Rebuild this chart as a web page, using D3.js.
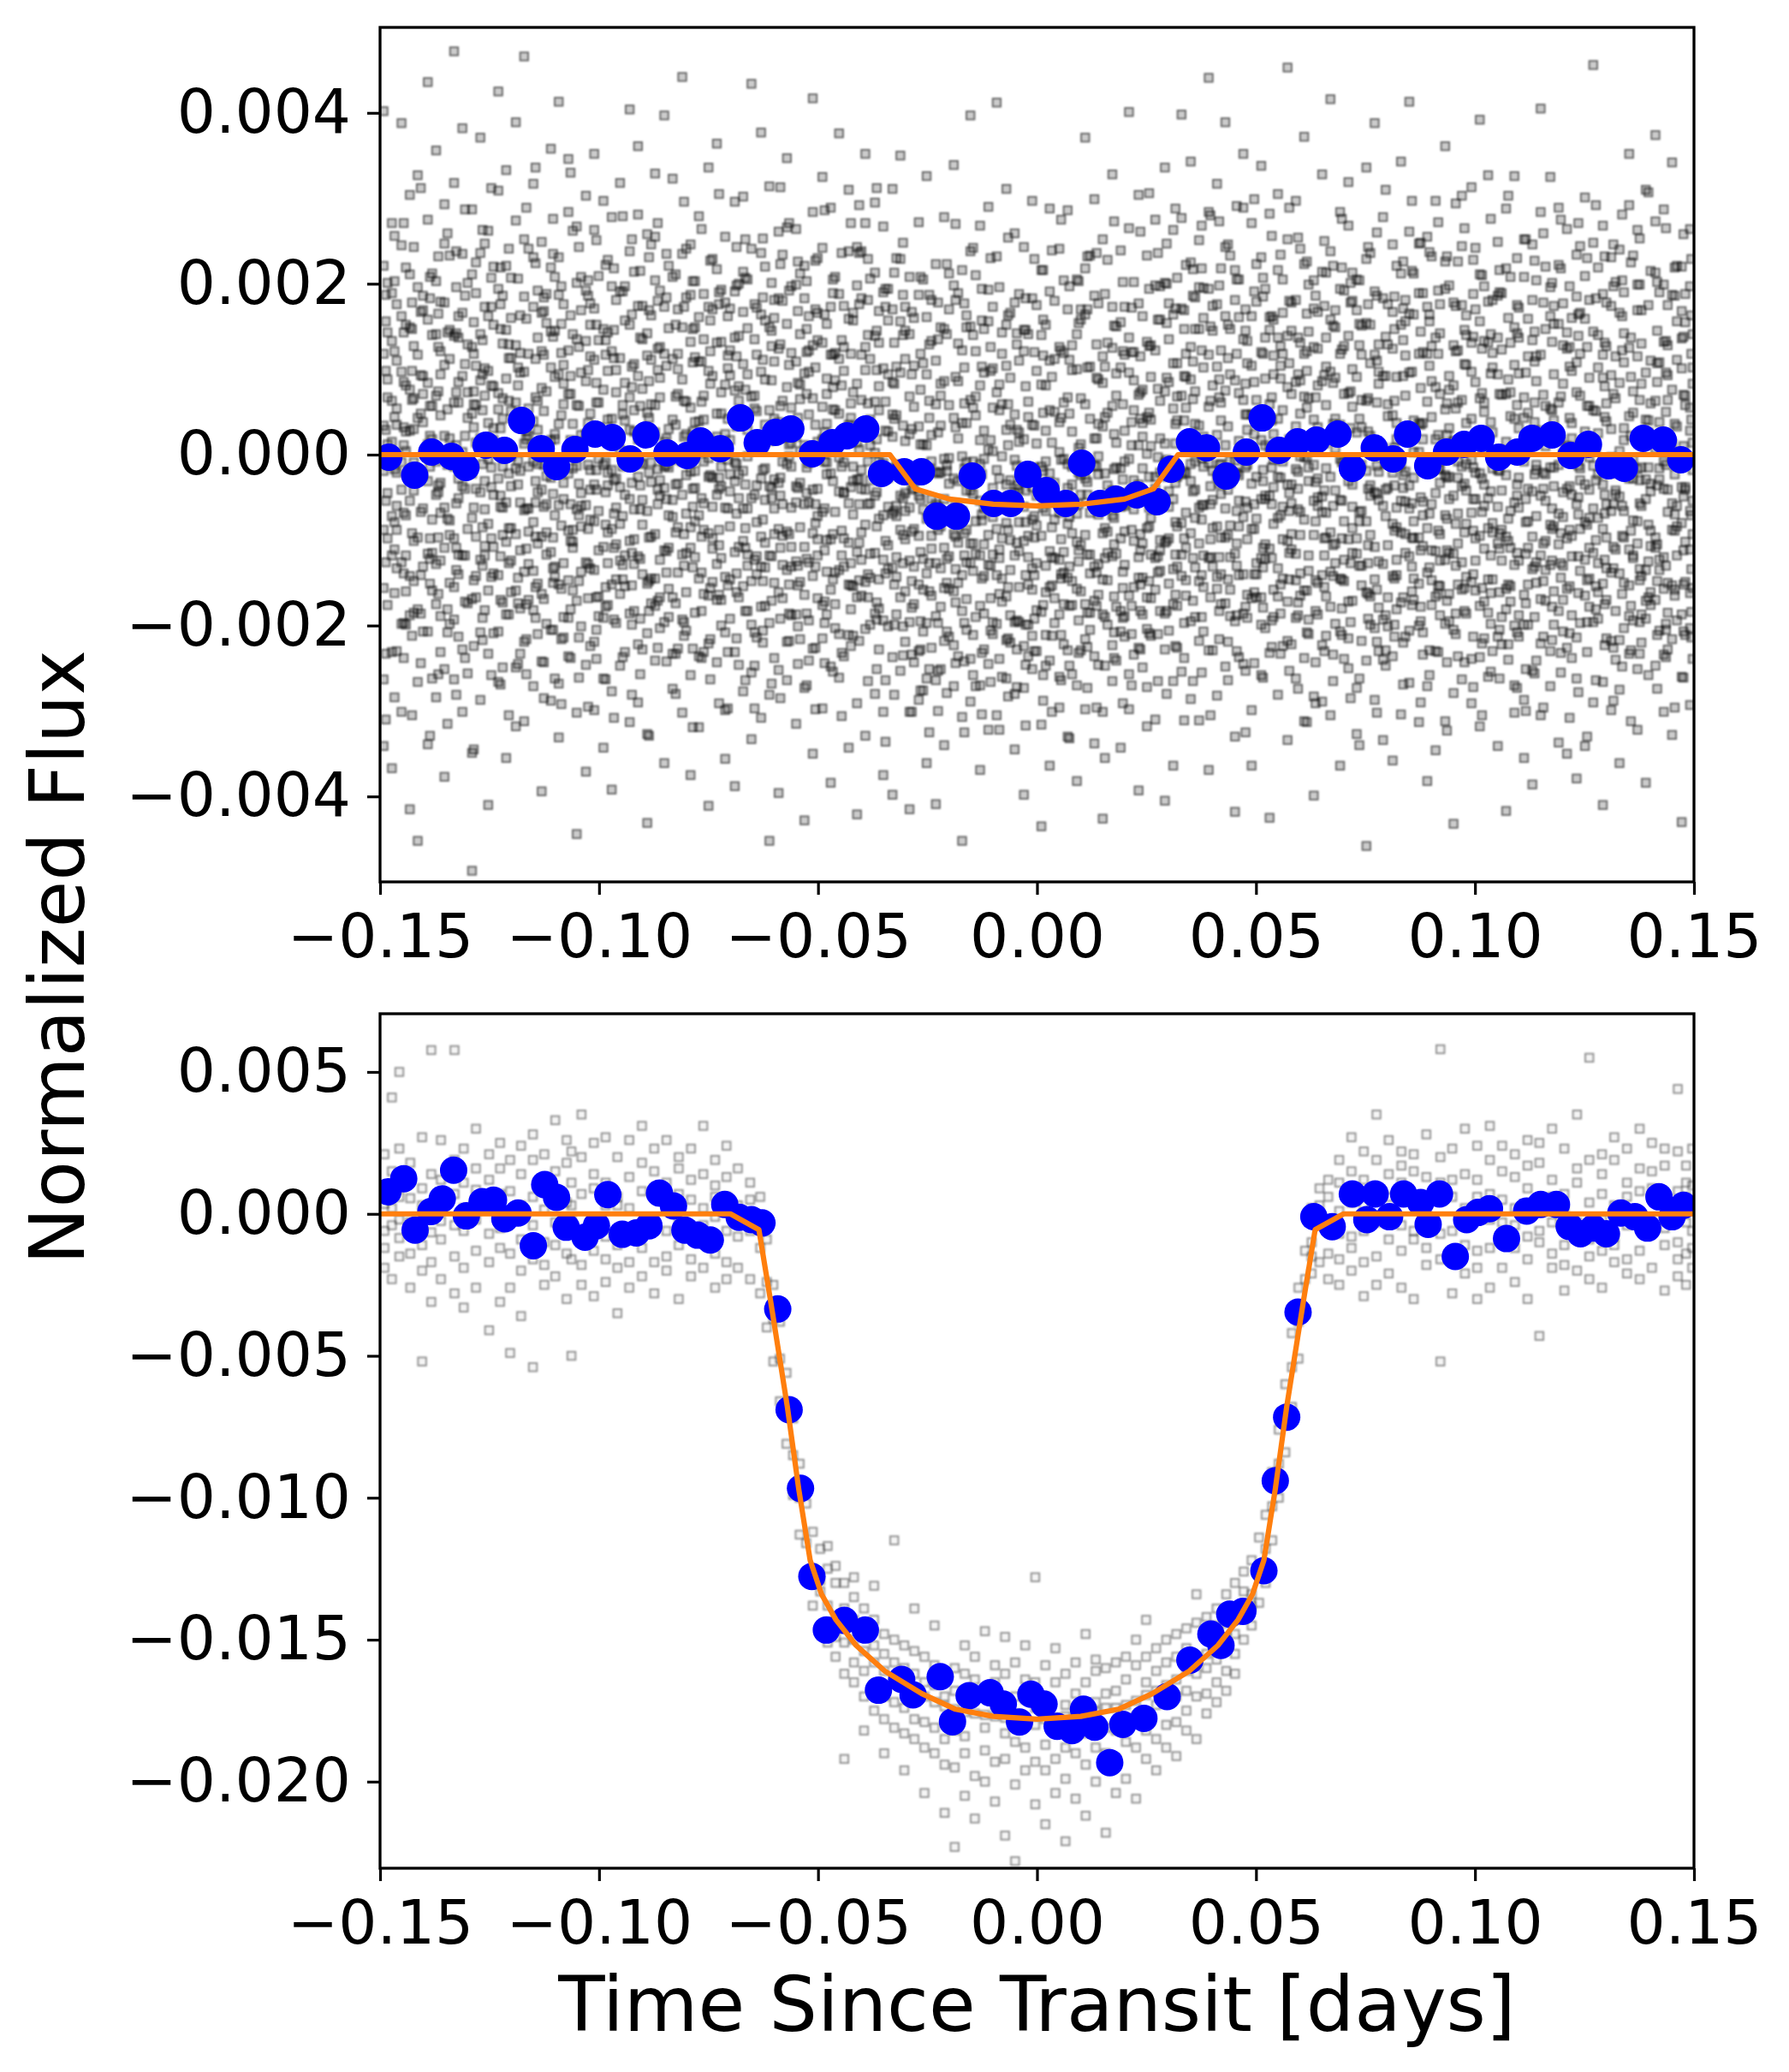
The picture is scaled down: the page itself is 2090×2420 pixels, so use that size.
<!DOCTYPE html>
<html><head><meta charset="utf-8">
<script src="https://cdn.jsdelivr.net/npm/d3@7"></script>
<style>body{margin:0;background:#fff} text{font-family:"DejaVu Sans",sans-serif}</style>
</head><body><svg id="c" width="2090" height="2420"></svg>
<script>
// ---------------- DATA ----------------
const xTicks = [-0.15,-0.10,-0.05,0,0.05,0.10,0.15];
const topYTicks = [-0.004,-0.002,0,0.002,0.004];
const botYTicks = [-0.020,-0.015,-0.010,-0.005,0,0.005];
const xLabel = "Time Since Transit [days]";
const yLabel = "Normalized Flux";

// binned (blue) points, top panel
const topBinX = [-0.1480,-0.1421,-0.1382,-0.1337,-0.1304,-0.1258,-0.1216,-0.1177,-0.1132,-0.1097,-0.1055,-0.1009,-0.0970,-0.0929,-0.0893,-0.0845,-0.0799,-0.0768,-0.0723,-0.0677,-0.0639,-0.0597,-0.0562,-0.0513,-0.0468,-0.0434,-0.0391,-0.0355,-0.0303,-0.0264,-0.0229,-0.0184,-0.0148,-0.0099,-0.0060,-0.0021,0.0021,0.0066,0.0102,0.0144,0.0180,0.0228,0.0274,0.0306,0.0348,0.0387,0.0432,0.0478,0.0514,0.0553,0.0595,0.0638,0.0687,0.0720,0.0770,0.0813,0.0846,0.0892,0.0935,0.0975,0.1014,0.1054,0.1097,0.1130,0.1176,0.1219,0.1259,0.1305,0.1341,0.1384,0.1430,0.1470];
const topBinY = [-0.00003,-0.00024,0.00003,-0.00002,-0.00015,0.00011,0.00005,0.00040,0.00007,-0.00014,0.00006,0.00024,0.00020,-0.00005,0.00023,0.00002,-0.00001,0.00016,0.00007,0.00043,0.00014,0.00026,0.00030,0.00001,0.00014,0.00022,0.00030,-0.00022,-0.00020,-0.00020,-0.00072,-0.00072,-0.00025,-0.00057,-0.00057,-0.00023,-0.00042,-0.00057,-0.00010,-0.00057,-0.00052,-0.00047,-0.00055,-0.00017,0.00015,0.00008,-0.00025,0.00003,0.00043,0.00005,0.00015,0.00017,0.00024,-0.00016,0.00008,-0.00005,0.00024,-0.00013,0.00003,0.00012,0.00019,-0.00003,0.00003,0.00019,0.00023,-0.00001,0.00012,-0.00013,-0.00016,0.00019,0.00017,-0.00006];

// binned (blue) points, bottom panel
const botBinX = [-0.1482,-0.1446,-0.1420,-0.1384,-0.1358,-0.1332,-0.1303,-0.1267,-0.1241,-0.1215,-0.1185,-0.1150,-0.1124,-0.1097,-0.1075,-0.1032,-0.1006,-0.0980,-0.0947,-0.0915,-0.0886,-0.0862,-0.0830,-0.0804,-0.0775,-0.0746,-0.0713,-0.0680,-0.0652,-0.0628,-0.0592,-0.0566,-0.0540,-0.0514,-0.0481,-0.0440,-0.0392,-0.0362,-0.0309,-0.0283,-0.0221,-0.0193,-0.0155,-0.0107,-0.0077,-0.0040,-0.0014,0.0016,0.0046,0.0080,0.0106,0.0132,0.0166,0.0196,0.0244,0.0297,0.0349,0.0397,0.0420,0.0440,0.0470,0.0518,0.0544,0.0570,0.0596,0.0632,0.0674,0.0720,0.0753,0.0772,0.0805,0.0837,0.0876,0.0893,0.0919,0.0955,0.0981,0.1007,0.1033,0.1072,0.1118,0.1150,0.1186,0.1215,0.1241,0.1270,0.1300,0.1333,0.1365,0.1394,0.1420,0.1450,0.1476];
const botBinY = [0.00078,0.00124,-0.00057,0.00008,0.00053,0.00154,-0.00007,0.00043,0.00048,-0.00017,0.00003,-0.00112,0.00103,0.00058,-0.00047,-0.00082,-0.00042,0.00068,-0.00072,-0.00067,-0.00042,0.00073,0.00028,-0.00057,-0.00075,-0.00092,0.00033,-0.00012,-0.00020,-0.00032,-0.00335,-0.00690,-0.00967,-0.01277,-0.01466,-0.01432,-0.01466,-0.01678,-0.01640,-0.01694,-0.01630,-0.01789,-0.01697,-0.01687,-0.01727,-0.01790,-0.01692,-0.01727,-0.01805,-0.01820,-0.01745,-0.01808,-0.01933,-0.01798,-0.01777,-0.01700,-0.01572,-0.01480,-0.01520,-0.01410,-0.01400,-0.01257,-0.00940,-0.00716,-0.00346,-0.00010,-0.00045,0.00070,-0.00020,0.00070,-0.00010,0.00070,0.00040,-0.00037,0.00070,-0.00150,-0.00020,0.00005,0.00018,-0.00087,0.00010,0.00033,0.00033,-0.00044,-0.00070,-0.00050,-0.00070,0.00003,-0.00010,-0.00050,0.00060,-0.00010,0.00030];

// transit model (orange)
const topModelX = [-0.15,-0.0336,-0.0278,-0.0200,-0.0100,0,0.0100,0.0200,0.0266,0.0322,0.15];
const topModelY = [0,0,-0.00040,-0.00052,-0.00058,-0.00060,-0.00058,-0.00052,-0.00040,0,0];
const botModelX = [-0.15,-0.0700,-0.0635,-0.0609,-0.0570,-0.0544,-0.0518,-0.0492,-0.0459,-0.0413,-0.0348,-0.0263,-0.0186,-0.0100,0,0.0100,0.0186,0.0263,0.0348,0.0413,0.0459,0.0492,0.0518,0.0544,0.0570,0.0609,0.0635,0.0700,0.15];
const botModelY = [0,0,-0.00056,-0.0030,-0.0068,-0.0097,-0.0122,-0.0134,-0.0143,-0.0152,-0.0161,-0.0169,-0.01745,-0.0177,-0.0178,-0.0177,-0.01745,-0.0169,-0.0161,-0.0152,-0.0143,-0.0134,-0.0122,-0.0097,-0.0068,-0.0030,-0.00056,0,0];

// raw (grey) points: [time in 1e-4 d, flux values in 1e-5 ...]
const topGray = [
[-1492,34,-156,221,-88,402,-263,118,-19,-341],[-1473,-72,189,-231,15,133,-367,271,-118,63],[-1451,245,-41,-198,97,-301,162,-9,388,-126],
[-1432,-188,76,304,-54,-142,211,-415,28,149],[-1414,117,-266,43,-97,196,-23,327,-181,-452],[-1391,-31,158,-339,84,-207,275,12,-116,436],
[-1372,203,-128,-47,356,-284,69,-175,141,-8],[-1353,-251,22,178,-109,293,-62,-377,105,247],[-1331,61,-193,-263,139,-14,318,-98,472,-155],
[-1312,-118,235,92,-301,-37,166,-228,3,382],[-1290,287,-74,-169,48,211,-349,126,-22,-487],[-1271,-44,141,-287,371,-123,87,19,-208,236],
[-1253,162,-233,37,-81,262,-159,-410,98,-5],[-1230,-207,53,309,-141,-28,194,-266,425,72],[-1212,89,-102,-355,221,-187,11,146,-56,333],
[-1190,-159,274,61,-16,-249,128,389,-93,-318],[-1171,13,-219,185,-312,97,-65,252,-137,466],[-1150,231,-8,-136,173,-271,39,-182,317,-79],
[-1131,-96,166,-41,-394,249,-163,78,-242,121],[-1110,144,-288,102,-27,358,-114,-205,17,219],[-1092,-268,36,231,-152,-59,187,-331,94,413],
[-1070,71,-147,-22,284,-236,122,-89,346,-191],[-1051,-13,201,-302,58,-171,267,-444,135,-64],[-1030,192,-59,133,-246,24,-126,303,-371,86],
[-1011,-135,263,-78,111,-219,352,-35,-299,171],[-990,25,-191,297,-12,-343,147,76,-108,-262],[-971,278,-87,-152,197,42,-277,-18,121,-392],
[-952,-81,113,-247,-38,318,-163,191,6,-124],[-930,152,-313,67,-186,238,-52,404,-101,29],[-911,-222,18,174,-119,92,-290,281,-26,361],
[-890,49,-151,-327,258,-66,142,-209,-431,116],[-872,-177,329,26,-93,204,-241,58,-145,255],[-851,118,-39,-196,15,-361,173,-112,397,-14],
[-832,-53,208,112,-274,-167,41,323,-73,-233],[-810,235,-117,-8,149,-302,88,-193,-47,442],[-791,-109,55,-258,187,-20,-375,132,246,-85],
[-772,7,-236,161,-71,279,-145,39,-319,109],[-750,173,-26,-165,336,-92,-221,98,-4,-411],[-731,-243,131,48,-128,217,-47,364,-170,21],
[-712,82,-208,-299,24,-143,255,-62,178,-356],[-690,-31,296,-114,-231,75,-9,191,-388,137],[-671,214,-63,167,-19,-277,106,-154,302,-101],
[-652,-148,12,-333,241,-51,-199,68,434,-255],[-630,97,-178,236,-96,164,-308,-28,-131,377],[-611,-197,149,-37,-281,314,52,-118,16,-452],
[-590,38,-252,183,124,-161,-33,-396,261,-87],[-571,-90,79,-219,-11,266,-135,347,-264,153],[-550,264,-125,21,-187,-56,199,-315,109,-37],
[-531,-58,183,-273,95,-108,-428,11,221,-164],[-512,128,-41,-142,284,-227,66,-92,-350,417],[-490,-215,242,56,-67,131,-176,-297,18,325],
[-471,16,-99,-384,173,-22,289,-158,117,-248],[-452,188,-261,112,-135,48,-43,376,-210,-3],[-430,-103,35,-211,310,-152,159,-57,-343,238],
[-411,243,-167,-29,83,-291,-114,14,198,-421],[-392,-41,126,271,-204,99,-329,-82,352,-149],[-370,-280,62,-115,2,213,-48,-186,139,295],
[-351,101,-194,190,-301,-71,267,-10,-123,-375],[-330,-69,311,-237,47,-132,85,-398,170,21],[-312,156,-12,-88,-253,229,-167,350,-48,96],
[-291,-124,208,-301,68,-196,24,-62,-415,141],[-270,33,-152,-48,187,-287,-95,272,-18,-230],[-252,-197,94,-139,-361,11,161,-75,326,-262],
[-231,110,-264,-20,-127,223,-58,-189,59,-409],[-212,-52,-218,147,-340,-5,278,-109,-156,86],[-190,198,-93,-271,43,-160,-28,339,-223,-68],
[-171,-141,37,-66,-307,122,-183,-2,216,-452],[-152,64,-239,238,-104,-42,-289,150,-127,397],[-130,-270,-11,-177,81,268,-54,-369,17,-118],
[-111,156,-129,-53,-245,6,193,-94,-322,290],[-92,-87,232,-305,-18,-198,73,-141,412,-56],[-70,29,-166,104,-262,-80,311,-217,-35,152],
[-51,-196,-44,259,-118,47,-345,-6,178,-280],[-30,121,-273,-101,18,-224,146,-61,-398,243],[-11,-38,183,-212,-133,297,-76,35,-251,-158],
[10,82,-184,-14,-316,140,-95,216,-47,-435],[29,-155,52,-241,191,-22,-113,-364,110,288],[51,3,-296,126,-68,-187,241,-123,38,-260],
[70,-229,170,-39,-144,67,-330,286,-81,-11],[91,141,-69,-270,-8,-157,100,-382,205,-102],[110,-94,218,-175,59,-298,-28,164,-216,371],
[131,19,-131,299,-236,-59,186,-13,-171,-338],[150,-187,84,-92,-301,33,252,-146,-426,115],[172,173,-42,-223,125,-119,-265,57,328,-71],
[191,-61,-207,155,-16,-343,102,-98,239,-183],[210,96,-298,-44,265,-165,-5,-257,137,401],[232,-226,11,-120,177,70,-393,-35,304,-144],
[251,132,-167,233,-86,-272,44,-204,1,-318],[270,-40,275,-158,-310,122,-63,198,-121,-26],[292,201,-103,-9,-228,13,336,-186,74,-405],
[311,-134,54,-265,107,-52,-175,263,-364,164],[330,69,-254,171,-117,277,-23,-142,398,-80],[351,-195,126,-31,225,-286,88,-92,343,-11],
[370,251,-62,-218,34,147,-148,-311,196,-104],[392,-10,194,-121,-369,56,284,-229,117,441],[411,103,-157,317,-84,-25,176,-282,-143,23],
[430,-248,75,-63,243,-174,11,389,-97,162],[452,181,-22,-195,87,-330,216,-116,-7,-418],[471,-73,289,135,-245,4,-140,64,352,-186],
[490,47,-168,-299,162,-87,104,-34,-364,271],[512,-167,231,17,-121,338,-199,120,-52,-258],[531,282,-110,-48,59,-232,161,-425,8,146],
[550,-26,137,-281,-166,216,-74,305,-133,42],[572,139,-218,79,-35,-334,252,-101,453,-172],[591,-116,33,-147,297,85,-262,-17,-191,181],
[610,223,-76,-238,118,-3,-159,372,68,-312],[632,-54,171,-12,-283,204,-94,41,-399,126],[651,86,-289,214,-49,-141,328,-223,19,-67],
[670,-178,97,-91,158,-26,-305,238,-137,416],[692,35,-145,284,-207,118,-53,-364,194,-5],[711,268,-31,-172,72,-250,139,-99,319,-215],
[730,-98,205,-327,26,-116,-15,169,-273,91],[752,154,-241,63,-161,336,-78,-19,229,-458],[771,-203,14,191,-108,-287,117,-44,388,-146],
[790,8,-128,-240,278,-60,-193,92,-334,183],[812,-142,246,124,-21,167,-358,-81,46,-236],[831,212,-91,-54,-304,28,152,-173,343,-12],
[850,-36,165,-267,96,-206,-63,261,-119,413],[872,118,-200,37,189,-97,-313,3,-151,247],[891,-271,62,-138,-4,255,-86,173,-382,118],
[910,79,-113,297,-230,-45,137,-166,18,-346],[932,-123,226,-71,53,-312,194,-24,-198,361],[951,178,-48,-205,128,16,-279,81,-116,-432],
[970,-14,303,-126,-263,175,-37,-158,244,64],[992,-239,97,42,-149,-68,313,-291,131,-6],[1011,66,-177,-318,211,-22,-95,156,-237,392],
[1030,-86,131,179,-51,-260,9,-146,327,-185],[1052,249,-18,-104,-213,94,-341,186,-61,137],[1071,-157,218,-24,71,-181,288,-417,-96,15],
[1090,42,-270,149,-129,326,-56,-200,105,-302],[1112,-199,67,-287,208,-8,-164,43,-355,252],[1131,134,-134,22,-43,246,-253,-96,181,-386],
[1150,-48,284,-169,117,-305,28,-118,405,-221],[1172,196,-82,-230,-15,162,-129,325,-271,54],[1191,-105,153,61,-337,-69,222,-183,-12,289],
[1210,10,-226,264,-98,124,-40,-350,143,-157],[1232,-262,108,-58,185,-214,73,-6,-379,234],[1251,159,-165,-341,27,-123,301,-79,209,-35],
[1270,-63,248,-115,-196,52,-290,144,-13,456],[1292,90,-35,188,-266,-151,117,-410,268,-87],[1311,-218,174,-3,93,-299,-66,231,-138,30],
[1330,240,-139,-275,4,166,-217,84,-49,-361],[1352,-28,292,125,-153,-233,45,-111,352,-189],[1371,115,-251,-78,199,-17,-322,169,-104,263],
[1390,-171,41,-192,-29,310,-135,-384,96,-52],[1412,63,-109,273,-247,-97,213,7,-170,374],[1431,-234,199,-40,132,-301,-8,-157,287,-120],
[1450,187,-57,-153,-328,76,-88,342,-216,13],[1472,-80,136,220,-187,-38,-260,101,-430,168],[1491,28,-203,-111,264,-162,55,-293,197,-66]
];
const topGrayCore = [
[-1483,12,-98,143,-45,67,-176,201,-12,88],[-1462,-133,54,-21,176,-88,110,-230,35,-60],[-1441,81,-160,27,-71,219,-118,4,152,-199],
[-1423,-42,127,-185,66,-9,243,-101,-148,30],[-1402,169,-63,92,-207,38,-131,71,-25,186],[-1381,-115,18,-262,140,-76,57,-159,212,-3],
[-1362,46,-189,121,-33,-124,179,-68,94,-231],[-1341,-77,146,-6,-150,233,-94,19,-198,112],[-1321,137,-28,-117,61,-213,85,162,-51,-140],
[-1300,-20,201,-87,-174,43,-9,-256,129,73],[-1281,104,-142,58,14,-96,225,-167,-40,189],[-1261,-182,69,173,-118,-31,101,-64,247,-107],
[-1241,31,-108,-209,152,80,-47,-139,17,220],[-1220,-94,186,42,-62,-173,130,-14,-249,66],[-1201,160,-37,-124,-2,207,-86,51,-161,113],
[-1180,-56,96,-233,119,-19,163,-112,36,-180],[-1161,118,-170,22,-90,54,-14,241,-128,-63],[-1140,-11,63,-151,192,-104,-44,137,-210,29],
[-1120,188,-117,74,-58,-198,11,-91,154,-25],[-1101,-143,24,208,-131,91,-71,18,-262,145],[-1081,59,-190,-33,105,-127,176,-52,83,-214],
[-1060,-102,141,-88,-16,262,-159,36,-109,7],[-1041,23,-60,-201,169,-45,96,-137,208,-84],[-1020,152,-133,48,-76,-18,-224,115,-41,177],
[-1001,-66,209,-112,32,-166,61,-5,-189,134],[-980,98,-21,-176,143,-91,-36,228,-127,41],[-961,-197,73,12,-105,181,-62,-146,99,-28],
[-941,40,-154,197,-47,-118,84,-7,-231,157],[-920,-128,106,-64,-183,27,214,-99,52,-12],[-901,174,-11,-140,77,-228,-53,135,-82,21],
[-881,-32,163,-96,-9,111,-174,59,-145,246],[-861,126,-203,67,-123,-48,192,-30,90,-167],[-841,-157,30,-15,221,-109,6,-190,148,-71],
[-820,71,-85,-227,100,-34,-138,170,-6,118],[-801,-24,184,-69,-161,62,-115,24,241,-206],[-781,203,-120,114,-39,-185,38,-78,-19,149],
[-761,-88,41,-163,188,-57,135,-231,69,-8],[-741,11,-149,92,-98,229,-27,-110,170,-61],[-721,-170,132,-37,48,-121,-200,73,-14,193],
[-701,93,-43,-192,171,17,-84,-146,122,-23],[-681,-51,200,-108,-23,-167,63,139,-246,80],[-661,148,-130,29,-63,94,-183,-2,205,-117],
[-640,-119,13,172,-140,-36,117,-214,51,-79],[-621,35,-177,-53,220,-103,-16,88,-132,157],[-600,-63,109,-238,42,160,-93,-29,181,-150],
[-581,180,-95,63,-129,-8,234,-168,20,-58],[-561,-131,55,-14,-188,119,-62,197,-108,14],[-541,65,-216,141,-33,-149,82,-85,4,212],
[-521,-10,162,-126,97,-56,-194,47,-241,122],[-501,134,-72,-168,15,230,-118,-40,166,-99],[-480,-187,89,36,-100,-23,153,-137,71,-9],
[-461,52,-138,208,-67,-175,22,119,-203,87],[-441,-98,174,-45,126,-131,-9,-236,98,-44],[-420,166,-31,-154,-14,73,-212,157,-70,28],
[-401,-40,117,-91,238,-165,64,-18,-123,183],[-381,112,-199,11,-116,41,-57,206,-144,-30],[-361,-146,80,168,-75,-8,-180,52,131,-228],
[-340,27,-106,-201,157,-134,94,-27,-61,194],[-321,-72,230,-60,-143,103,-12,-187,46,-120],[-301,145,-45,16,-219,-99,173,-66,112,-160],
[-281,-175,56,-131,-20,-243,104,-87,160,-39],[-260,12,-207,107,-158,-64,205,-122,-11,-276],[-241,-110,133,-52,-226,23,-95,181,-165,-8],
[-220,83,-84,-178,34,-133,-21,149,-251,69],[-201,-34,170,-119,-68,-213,58,-157,-4,212],[-180,130,-150,19,-103,-31,189,-236,86,-72],
[-161,-205,37,-88,149,-169,-42,-9,-126,163],[-140,46,-116,210,-190,68,-78,121,-271,-18],[-121,-142,-5,-63,96,-228,147,-105,28,-186],
[-101,101,-196,55,-39,-117,-210,173,-73,4],[-80,-59,143,-172,-2,-145,59,-260,118,-98],[-61,166,-100,-30,-188,35,-135,90,-220,-51],
[-41,-113,15,188,-79,-196,110,-40,-155,26],[-20,62,-236,-95,44,-152,-17,141,-120,-199],[-1,-182,98,-48,-127,13,-230,175,-83,-29],
[20,28,-161,152,-211,-66,81,-130,-8,-247],[40,-121,180,-76,-33,-197,112,-55,-168,50],[61,119,-63,-222,61,-114,-5,-175,204,-138],
[80,-35,-176,99,-148,27,-257,128,-92,-14],[100,170,-24,-160,12,-229,66,-106,-47,158],[121,-205,103,-10,-139,42,-185,233,-68,-117],
[140,36,-128,177,-70,-164,-23,88,-246,-2],[161,-90,228,-115,-199,49,-61,-147,131,-36],[181,150,-55,-15,-116,95,-241,14,-178,69],
[200,-60,117,-189,28,-90,173,-129,-8,-213],[221,87,-234,52,-64,-155,120,-30,202,-101],[241,-144,21,162,-187,-16,-104,76,-249,37],
[260,10,-117,-52,128,-212,41,-168,91,-74],[281,-100,197,-136,-21,63,-183,19,-112,158],[301,135,-43,-206,85,-98,-13,-151,177,-61],
[320,-177,68,-26,-131,207,-84,40,-226,107],[340,55,-147,118,-22,-165,91,-68,222,-109],[361,-132,184,-74,36,-8,-190,147,-41,74],
[380,160,-14,-118,-207,102,-59,21,-155,195],[401,-19,81,-229,145,-86,174,-131,9,-53],[420,122,-175,40,-46,-140,-11,218,-97,61],
[441,-83,147,-7,-158,233,-120,-33,94,-189],[461,205,-54,-141,72,-24,161,-84,-237,16],[480,-164,29,107,-99,-191,47,133,-12,-62],
[501,43,-127,223,-167,64,-75,-26,179,-140],[521,-105,194,-52,11,-122,-203,89,-48,137],[540,94,-81,-190,158,-38,116,-158,24,-6],
[561,-8,166,-99,-61,205,-145,52,-224,118],[581,178,-111,16,-222,-57,71,-93,145,-35],[601,-139,48,-165,131,-2,-94,241,-67,87],
[620,66,-193,144,-31,-136,199,-15,-118,-210],[641,-50,124,-60,-187,81,-28,167,-150,32],[660,137,-16,-212,103,-68,-166,58,213,-97],
[681,-198,90,42,-127,169,-42,-104,7,149],[701,25,-148,192,-78,-9,127,-239,71,-123],[720,-115,213,-86,56,-171,-35,100,-61,180],
[741,151,-66,-153,-12,117,-218,32,-130,64],[761,-36,107,22,-199,-94,152,-48,236,-166],[780,97,-230,129,-53,-125,11,-179,83,-20],
[801,-167,59,-39,176,45,-106,-7,-201,129],[821,18,-123,-181,91,-62,221,-141,37,-85],[841,-93,181,69,-115,-213,-20,116,-55,156],
[860,212,-98,-27,-170,40,-78,-145,164,3],[881,-55,37,-208,120,-107,189,18,-234,-71],[901,127,-176,86,-19,-147,-58,232,-112,44],
[920,-188,142,-93,-33,71,-124,-17,176,-154],[941,76,-52,-163,198,-26,31,-195,92,-115],[961,-27,226,-104,-152,122,-69,-8,-236,61],
[980,163,-143,37,-81,-186,105,-42,140,-11],[1001,-124,17,-52,170,-159,242,-98,-21,85],[1021,50,-215,133,-110,-35,-172,61,-60,197],
[1040,-80,102,-230,26,181,-91,-146,119,-16],[1061,189,-42,-124,-190,70,-8,123,-88,-222],[1081,-154,73,-1,131,-172,45,-66,208,-109],
[1100,31,-188,172,-62,-124,-27,-213,95,137],[1121,-109,159,-78,13,-199,115,-40,-152,49],[1140,115,-12,-150,204,-72,-241,86,-18,-126],
[1161,-23,-101,57,-171,147,-54,220,-135,10],[1180,174,-160,-37,94,-15,-199,40,-84,153],[1201,-73,128,-207,1,-130,83,-170,177,-44],
[1221,37,-238,98,-95,-47,160,-119,19,-188],[1240,-136,166,-16,118,-197,-30,-87,244,69],[1261,90,-74,-178,-41,57,-145,181,-109,-3],
[1281,-192,25,140,-127,-74,219,-23,-161,102],[1300,60,-133,-58,178,-215,39,-97,127,-170],[1321,-46,202,-111,-9,115,-183,66,-42,-240],
[1340,142,-97,31,-203,-66,108,-150,17,190],[1361,-118,49,-194,74,-28,-121,233,-77,-6],[1380,20,-187,169,-60,-142,83,-15,-220,130],
[1401,-161,110,-43,215,-89,-34,-176,60,-107],[1421,108,-29,-135,-16,190,-206,38,-123,14],[1440,-67,175,64,-150,-41,128,-228,93,-185],
[1461,156,-118,-84,33,-194,-7,111,-60,221],[1480,-41,69,-211,155,-102,188,-38,-149,58],[1497,83,-156,14,-93,141,-239,-54,102,-18]
];
const topGrayMid = [
[-1487,-54,187,-126,29,-233,98,-310,156,-8],[-1467,121,-79,256,-162,44,-17,-284,203,-111],[-1446,-197,32,-68,143,-139,271,11,-238,85],
[-1427,64,-212,178,-29,98,-305,147,-92,-16],[-1407,-141,93,-23,-186,312,-67,-244,48,167],[-1386,208,-151,57,-98,-14,183,-122,-329,22],
[-1367,-36,126,-257,74,165,-44,232,-163,-97],[-1346,143,-12,-181,259,-75,-208,53,-6,-315],[-1326,-109,238,73,-135,11,-281,142,-57,196],
[-1306,22,-172,-40,186,-238,106,-118,287,-23],[-1286,-224,59,155,-62,-147,32,-345,118,74],[-1266,94,-130,-217,134,52,-85,263,-191,-11],
[-1246,-38,207,-98,-258,173,-15,-143,81,312],[-1225,176,-61,31,-119,-269,147,-48,219,-170],[-1206,-127,113,-187,63,-22,241,-305,-86,129],
[-1185,48,-245,102,-144,206,-35,81,-174,-7],[-1166,-175,28,-63,289,-110,-216,159,18,-257],[-1145,112,-155,224,-31,67,-96,-191,336,-56],
[-1126,-61,184,-243,117,-169,51,-12,-285,168],[-1105,235,-97,-8,-205,138,-133,276,-46,-150],[-1086,-16,119,-157,46,-292,197,-83,153,-216],
[-1065,163,-238,71,-101,17,-58,330,-181,92],[-1046,-148,57,-214,243,-71,126,-34,-261,15],[-1025,37,-168,186,-12,-128,-295,99,204,-87],
[-1006,-205,152,-41,-167,84,-18,-239,61,251],[-985,134,-82,117,-263,-44,222,-155,-9,-178],[-966,-69,218,-193,27,-109,146,-308,113,-30],
[-946,191,-14,-129,-72,279,-237,58,-146,47],[-925,-115,79,252,-153,-33,103,-199,-281,164],[-906,57,-257,-36,137,-192,-9,215,-64,-122],
[-886,-183,169,43,-97,231,-148,-21,-329,86],[-866,99,-41,-226,180,-58,-171,124,271,-17],[-846,-12,235,-138,-242,104,19,-113,-52,184],
[-825,211,-174,68,-35,-280,152,-91,35,-233],[-806,-93,21,-196,296,-130,-7,173,-212,63],[-786,27,-132,147,-61,-227,203,-40,108,-319],
[-766,-238,109,-51,-183,62,-96,264,-138,14],[-746,157,-216,16,121,-156,-263,83,-24,227],[-726,-27,176,-291,-88,190,-40,-164,305,-106],
[-706,116,-63,101,-231,-6,162,-297,42,-153],[-686,-161,243,-139,33,-215,-69,115,-11,198],[-666,76,-109,-264,207,-86,-183,38,252,-35],
[-645,-208,54,176,-47,135,-247,-123,69,-297],[-626,184,-206,-18,-148,253,8,-76,-220,111],[-606,-51,127,-171,87,-268,145,201,-39,-119],
[-586,129,-48,223,-192,-27,-109,57,-285,313],[-566,-186,192,-93,12,-152,271,-218,105,-2],[-546,43,-153,-245,168,84,-39,-130,226,-201],
[-526,-122,71,120,-270,-45,203,-186,-15,147],[-506,227,-226,-58,35,-131,102,-298,170,-80],[-485,-8,164,-197,-112,286,-63,26,-172,-244],
[-466,117,-93,53,205,-254,-146,189,-31,79],[-446,-232,21,-118,81,-14,236,-89,-306,134],[-425,60,-181,271,-153,118,-38,-224,43,-127],
[-406,-147,236,-29,-218,6,176,-103,292,-58],[-386,181,-58,-167,140,-265,-8,60,-140,229],[-366,-84,145,99,-44,-193,312,-251,18,-173],
[-346,28,-264,-139,194,62,-101,-22,173,-336],[-326,-199,83,213,-16,-152,-281,131,-66,42],[-306,140,-127,-51,-235,187,34,-201,248,-94],
[-286,-90,167,-234,-41,-148,94,-301,30,-179],[-266,76,-195,12,-276,118,-114,208,-228,-52],[-246,-251,43,-160,129,-16,-325,63,-127,187],
[-226,135,-88,-300,-22,-197,178,-61,-253,26],[-206,-19,223,-122,-207,-72,-12,-279,141,-150],[-186,181,-134,-57,91,-244,-173,32,270,-96],
[-166,-118,-16,-242,177,-92,60,-197,-325,102],[-146,55,-258,140,-136,-8,242,-104,-46,-211],[-126,-232,103,-77,-304,157,-145,-23,194,-70],
[-106,98,-168,230,-50,-266,17,-130,-206,126],[-86,-163,52,-111,-239,82,-322,196,-28,-121],[-66,11,-215,163,-88,-155,254,-49,-283,59],
[-46,-194,129,-36,-272,-103,29,-228,142,-13],[-26,146,-79,-199,80,-317,-42,183,-141,-246],[-6,-72,229,-141,-15,-230,120,-97,-192,34],
[14,116,-288,49,-176,-62,216,-258,-19,158],[34,-212,14,-120,239,-40,-153,91,-301,-85],[55,43,-145,275,-99,-211,-6,-140,122,-264],
[74,-131,197,-64,-247,111,-73,-332,48,-177],[95,203,-232,-21,-125,8,-194,154,-58,-112],[115,-47,102,-185,170,-273,-32,-117,232,-225],
[136,90,-177,236,-63,-138,129,-296,-14,19],[155,-190,-22,-86,188,-247,44,-121,-355,103],[176,24,151,-208,-105,-17,273,-166,-74,-238],
[196,-156,59,121,-291,-58,-137,202,-29,-191],[216,172,-210,-45,38,-177,-88,-270,120,11],[236,-93,115,-152,261,-112,-228,42,-183,73],
[256,49,-84,194,-209,-26,127,-148,306,-62],[276,-210,236,-3,-119,158,-51,-265,77,-138],[296,154,-26,-183,90,-280,200,-6,-101,247],
[316,-33,171,-117,-224,36,-164,288,-79,13],[336,92,-238,40,147,-98,-20,-197,169,-311],[356,-171,65,-265,10,217,-121,109,-43,186],
[376,218,-141,122,-76,-190,268,-59,-255,-4],[396,-58,280,-37,-167,63,-99,-305,150,-120],[416,67,-120,-216,198,-12,-183,88,-34,273],
[436,-219,33,152,-94,-264,113,-146,246,-41],[456,118,-188,-66,291,-130,-21,205,-104,-230],[476,-15,145,-253,47,-178,83,-55,-325,170],
[496,191,-58,85,-161,24,-244,299,-87,-140],[516,-132,207,-179,-31,118,-109,-18,185,-261],[536,40,-225,256,-121,-58,162,-194,67,-15],
[556,-186,89,-27,127,-233,-71,234,-152,104],[576,107,-45,-146,-253,180,18,-115,289,-66],[596,-64,254,94,-188,-40,-274,137,-20,-173],
[616,165,-159,-3,55,-208,121,-313,98,226],[636,-243,16,186,-78,-147,-32,67,-183,-291],[656,13,-98,-230,250,93,-155,-42,174,-118],
[676,-106,221,-60,-142,-265,84,151,-234,36],[696,219,-180,123,-9,-98,-211,-54,276,-146],[716,-23,74,-196,178,-285,31,-127,-12,201],
[736,128,-262,42,-130,204,-67,-340,153,-78],[756,-163,176,-127,27,-40,243,-192,-106,66],[776,61,-46,260,-219,110,-158,-13,186,-302],
[796,-229,138,-72,-10,-188,92,-247,310,-41],[816,185,-213,8,147,-89,-145,63,-36,-199],[836,-39,92,-167,-269,226,-24,134,-220,171],
[856,97,-160,215,-57,-131,297,-176,21,-97],[876,-178,248,-50,-195,35,-112,-290,144,78],[896,156,-10,-229,104,-258,164,-69,-132,237],
[916,-89,192,118,-163,-17,-231,23,272,-153],[936,23,-243,-112,232,-75,60,-171,-27,-323],[956,-210,121,5,-81,174,-186,294,-130,54],
[976,146,-91,-183,265,-34,-243,106,11,-156],[996,-15,228,-140,-52,-272,138,-89,188,-213],[1016,210,-156,72,-221,20,-67,-305,124,-28],
[1036,-162,38,-254,141,-118,276,-43,-198,95],[1056,71,-205,190,-19,-161,-92,216,-262,-110],[1076,-101,160,-75,-240,88,-5,-152,303,-222],
[1096,230,-48,-208,58,-273,175,-115,-35,142],[1116,-52,252,-116,-174,4,-251,96,-79,-300],[1136,109,-190,144,38,-131,227,-256,61,-23],
[1156,-213,70,-40,-148,259,-104,-21,-296,178],[1176,31,-124,-217,201,-63,-178,132,52,-87],[1196,-144,275,68,-92,-232,16,-127,218,-255],
[1216,197,-88,-154,-37,103,-308,43,-209,126],[1236,-70,139,-278,164,-13,-119,271,-50,-162],[1256,126,-231,20,-196,230,57,-82,-147,-330],
[1276,-181,51,-100,292,-154,-30,183,-264,6],[1296,44,-175,232,-69,-223,131,-123,80,-47],[1316,-226,197,-22,-133,71,-288,-58,246,-108],
[1336,162,-60,-163,122,-248,-16,204,-95,281],[1356,-12,225,-229,-89,137,-177,22,-312,91],[1376,199,-147,64,-30,-196,253,-134,-57,-233],
[1396,-125,26,-258,175,-82,-15,307,-167,40],[1416,85,-211,145,-105,-274,107,-36,202,-148],[1436,-198,133,-12,-237,50,-130,-205,96,265],
[1456,36,-70,219,-158,-23,186,-296,-89,-165],[1476,-152,258,-112,70,-207,-49,138,-261,10],[1494,118,-134,41,-214,163,-6,-184,229,-71]
];
const botGray = [
[-1490,35,-120,210,-60,90,-190],[-1473,410,-40,150,-230,20,95],[-1456,500,-85,60,-150,230,-20],[-1431,-140,55,180,-260,-30,120],
[-1404,-520,90,-110,30,270,-200],[-1383,577,-65,140,-170,15,-310],[-1361,120,-230,40,260,-90,-25],[-1330,577,-150,70,-40,190,-280],
[-1309,-60,230,-190,110,-330,20],[-1281,160,-20,-260,85,300,-130],[-1251,-410,120,-70,210,-170,45],[-1226,70,-310,160,-50,250,-120],
[-1203,-490,190,-20,-140,80,-260],[-1178,240,-90,30,-200,140,-360],[-1151,-540,60,-160,190,-40,280],[-1125,-100,210,-250,15,120,-180],
[-1100,150,-30,330,-220,-110,60],[-1074,-70,260,-140,40,-300,180],[-1063,-500,110,-20,220,-160,30],[-1040,200,-180,70,-60,350,-250],
[-1012,-30,140,-290,90,-130,250],[-985,110,-240,30,270,-80,-160],[-958,-190,60,200,-110,30,-350],[-931,260,-70,-170,130,-260,20],
[-902,-40,180,-120,310,-220,80],[-874,90,-280,150,-30,-170,230],[-846,-150,40,260,-200,110,-60],[-818,200,-110,-30,160,-300,70],
[-790,-80,230,-220,50,120,-160],[-762,140,-40,310,-190,-90,20],[-735,-260,100,-10,190,-140,60],[-709,60,-170,240,-60,130,-230],
[-683,30,-190,160,-80],[-655,-60,110,-230,50],[-632,-120,60,-280],[-617,-240,-90,-400],[-602,-370,-520,-250],[-587,-510,-380,-660],
[-572,-690,-560,-810],[-557,-850,-720,-990],[-542,-1000,-1130,-880],[-527,-1160,-1020,-1290],[-512,-1250,-1380,-1120],
[-495,-1330,-1180,-1460,-1290],[-478,-1380,-1250,-1510,-1170],[-460,-1420,-1300,-1560,-1490,-1240],
[-440,-1460,-1300,-1620,-1390,-1920,-1510],[-418,-1500,-1350,-1650,-1430,-1580,-1280],[-395,-1540,-1700,-1390,-1610,-1470,-1820],
[-372,-1580,-1430,-1750,-1520,-1660,-1310],[-349,-1610,-1780,-1480,-1700,-1550,-1900],[-326,-1640,-1500,-1810,-1150,-1720,-1580],
[-303,-1660,-1830,-1520,-1740,-1960,-1600],[-280,-1680,-1540,-1850,-1620,-1780,-1390],[-257,-1700,-1880,-1560,-2040,-1650,-1790],
[-234,-1720,-1590,-1900,-1660,-1810,-1450],[-211,-1735,-1620,-1940,-2110,-1700,-1850],[-188,-1745,-1600,-2230,-1820,-1680,-1950],
[-165,-1755,-1900,-1620,-1520,-1840,-2050],[-142,-1760,-1640,-1980,-1700,-2130,-1560],[-119,-1765,-1890,-1470,-1810,-1680,-2000],
[-96,-1770,-1650,-2070,-1590,-1930,-1730],[-73,-1775,-1920,-1620,-1830,-1490,-2190],[-50,-2280,-1700,-1860,-1580,-2010,-1760],
[-27,-1780,-1640,-1960,-1710,-1880,-1520],[-4,-1280,-1800,-1930,-1650,-2080,-1740],[19,-1780,-1590,-1870,-2150,-1700,-1960],
[42,-1775,-1920,-1650,-1820,-1530,-2040],[65,-1770,-1620,-1990,-1730,-1880,-2210],[88,-1765,-1900,-1580,-1690,-2060,-1810],
[111,-1760,-1650,-1940,-1480,-1830,-2120],[134,-1755,-1880,-1610,-2000,-1720,-1570],[157,-2180,-1740,-1600,-1900,-1810,-1690],
[180,-1740,-1580,-1920,-1680,-2040,-1820],[203,-1730,-1860,-1560,-1790,-1640,-1990],[226,-1715,-1590,-1880,-1500,-1770,-2060],
[249,-1695,-1820,-1560,-1920,-1650,-1430],[272,-1680,-1530,-1850,-1730,-1960,-1610],[295,-1660,-1800,-1500,-1700,-1580,-1880],
[318,-1640,-1480,-1790,-1560,-1910,-1700],[341,-1610,-1750,-1460,-1680,-1530,-1820],[364,-1340,-1700,-1440,-1620,-1850,-1560],
[387,-1550,-1420,-1690,-1600,-1470,-1760],[410,-1520,-1650,-1390,-1570,-1720,-1450],[432,-1470,-1340,-1610,-1520,-1390,-1680],
[452,-1430,-1550,-1300,-1480,-1620],[472,-1390,-1260,-1500,-1330],[490,-1340,-1450,-1220,-1380],[507,-1260,-1140,-1370],
[522,-1180,-1060,-1300],[537,-1030,-1150,-910],[552,-880,-1000,-760],[567,-710,-840,-600],[582,-540,-680,-420],[597,-380,-510,-260],
[612,-230,-350,-130],[627,-100,-210,20,-150],[645,-40,90,-170,30],[665,-20,120,-140,60,-230],[690,10,-160,190,-70,110,-250],
[718,-80,150,-200,40,270,-120],[746,120,-60,220,-170,30,-290],[775,-150,80,-30,190,-250,350],[803,60,-210,140,-90,260,-20],
[832,-40,170,-260,110,-130,220],[860,210,-90,40,-300,150,-60],[889,-120,60,280,-180,-30,130],[921,580,-520,110,-70,200,-160],
[948,-60,230,-150,60,-280,120],[977,140,-40,-210,300,20,-110],[1005,-190,120,60,-130,240,-300],[1034,70,-260,190,-20,-120,310],
[1062,-30,150,-190,240,-70,50],[1091,210,-120,20,-240,130,-40],[1120,-80,260,-160,90,-300,170],[1147,-430,40,180,-100,250,-60],
[1176,120,-190,-30,300,-140,60],[1204,-110,70,230,-180,10,-270],[1233,160,-60,-200,110,350,-30],[1261,550,-150,40,-90,190,-230],
[1290,-20,210,-130,70,-260,140],[1318,190,-80,270,-170,30,-110],[1347,-160,110,-40,230,-210,60],[1376,80,-230,160,-20,300,-130],
[1404,-60,150,-190,90,-30,250],[1433,230,-110,40,-270,170,-50],[1463,440,-220,80,-100,220,-160],[1482,-30,170,-140,60,-250,110],
[1496,100,-60,230,-190,20,-120]
];

// ---------------- DRAWING ----------------
const svg = d3.select("#c");
svg.append("rect").attr("width",2090).attr("height",2420).attr("fill","#fff");
const defs = svg.append("defs");
defs.append("filter").attr("id","soft").attr("x","-10%").attr("y","-10%").attr("width","120%").attr("height","120%")
  .append("feGaussianBlur").attr("stdDeviation",0.9);

const L = 444, R = 1979;
const panels = [
  {id:"top", top:32, bottom:1030, dom:[-0.005,0.005], yt:topYTicks, gray:topGray.concat(topGrayCore, topGrayMid), bx:topBinX, by:topBinY, mx:topModelX, my:topModelY,
   grayStroke:"rgba(0,0,0,0.58)", grayFill:"rgba(0,0,0,0.2)"},
  {id:"bot", top:1184, bottom:2182, dom:[-0.02305,0.00705], yt:botYTicks, gray:botGray, bx:botBinX, by:botBinY, mx:botModelX, my:botModelY,
   grayStroke:"rgba(0,0,0,0.45)", grayFill:"rgba(0,0,0,0.04)"}
];
const x = d3.scaleLinear().domain([-0.15,0.15]).range([L,R]);
const fmtX = d3.format(".2f"), fmtY = d3.format(".3f");

panels.forEach(p => {
  const y = d3.scaleLinear().domain(p.dom).range([p.bottom,p.top]);
  const clipId = "clip-"+p.id;
  defs.append("clipPath").attr("id",clipId).append("rect")
    .attr("x",L).attr("y",p.top).attr("width",R-L).attr("height",p.bottom-p.top);
  const g = svg.append("g").attr("clip-path",`url(#${clipId})`);

  const pts = p.gray.flatMap(r => r.slice(1).map(v => ({t:r[0]*1e-4, f:v*1e-5})));
  const s = 9.5;
  g.append("g").attr("filter","url(#soft)").selectAll("rect").data(pts).join("rect")
    .attr("x",d=>x(d.t)-s/2).attr("y",d=>y(d.f)-s/2).attr("width",s).attr("height",s)
    .attr("fill",p.grayFill).attr("stroke",p.grayStroke).attr("stroke-width",1.8);

  g.append("g").selectAll("circle").data(p.bx.map((t,i)=>({t,f:p.by[i]}))).join("circle")
    .attr("cx",d=>x(d.t)).attr("cy",d=>y(d.f)).attr("r",16).attr("fill","#0000ff");

  const line = d3.line().x(d=>x(d[0])).y(d=>y(d[1]));
  g.append("path").datum(p.mx.map((t,i)=>[t,p.my[i]])).attr("d",line)
    .attr("fill","none").attr("stroke","#ff7f0e").attr("stroke-width",6.2).attr("stroke-linejoin","round");

  const ax = svg.append("g").attr("transform",`translate(0,${p.bottom})`)
    .call(d3.axisBottom(x).tickValues(xTicks).tickFormat(fmtX).tickSize(15).tickSizeOuter(0).tickPadding(23));
  const ay = svg.append("g").attr("transform",`translate(${L},0)`)
    .call(d3.axisLeft(y).tickValues(p.yt).tickFormat(fmtY).tickSize(15).tickSizeOuter(0).tickPadding(19));
  [ax,ay].forEach(a => {
    a.select(".domain").remove();
    a.selectAll(".tick line").attr("stroke","#000").attr("stroke-width",3.2);
    a.selectAll(".tick text").attr("fill","#000").attr("font-size",71).attr("font-family","DejaVu Sans");
  });
  svg.append("rect").attr("x",L).attr("y",p.top).attr("width",R-L).attr("height",p.bottom-p.top)
    .attr("fill","none").attr("stroke","#000").attr("stroke-width",3.3);
});

svg.append("text").attr("x",(L+R)/2).attr("y",2372).attr("text-anchor","middle")
  .attr("font-size",89).attr("fill","#000").text(xLabel);
svg.append("text").attr("transform","translate(98,1118) rotate(-90)").attr("text-anchor","middle")
  .attr("font-size",89).attr("fill","#000").text(yLabel);
</script></body></html>
